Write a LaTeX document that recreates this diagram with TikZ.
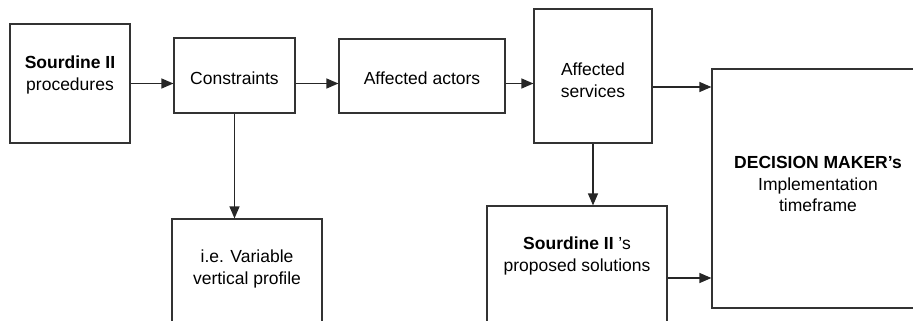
\documentclass[tikz,border=0pt]{standalone}
\usepackage{fontspec}
\setmainfont{Liberation Sans}
\usetikzlibrary{arrows.meta}

\tikzset{
  box/.style={draw=black!80, line width=1.2pt, inner sep=0pt, align=center},
  flow/.style={-{Triangle[length=12pt,width=10pt]}, line width=1.2pt, draw=black!85},
}

\begin{document}
\begin{tikzpicture}[x=1pt,y=-1pt,font=\fontsize{17.5}{21.5}\selectfont]
\useasboundingbox (0,0) rectangle (913,321);
\clip (0,0) rectangle (913,321);

% Top row
\node[box, minimum width=120pt, minimum height=119pt] (proc) at (70,83.5) {};
\node[align=center] (proctxt) at (70,75) {\textbf{Sourdine II}\\procedures};

\node[box, minimum width=121pt, minimum height=75pt] (cons) at (234.5,75.5) {};
\node (constxt) at (234.5,78) {Constraints};
\node[box, minimum width=166pt, minimum height=74pt] (acts) at (422,76) {};
\node (actstxt) at (422,78.5) {Affected actors};
\node[box, minimum width=118pt, minimum height=134pt] (serv) at (593,76) {};
\node[align=center] (servtxt) at (593,80) {Affected\\services};

% Decision box, runs off the right edge
\node[box, minimum width=216pt, minimum height=239pt] (dec) at (820,188.5) {};
\node[align=center] (dectxt) at (818,184)
    {\textbf{DECISION MAKER's}\\Implementation\\timeframe};

% Lower boxes, cut off at the bottom
\node[box, minimum width=150pt, minimum height=130pt] (prof) at (247,284) {};
\node[align=center] (proftxt) at (247,269) {i.e. Variable\\vertical profile};

\node[box, minimum width=180pt, minimum height=144pt] (sols) at (577,278) {};
\node[align=center] (solstxt) at (577,256) {\textbf{Sourdine II} 's\\proposed solutions};

% Connectors
\draw[flow] (proc.east) -- (proc.east -| cons.west);
\draw[flow] (cons.east |- proc.east) -- (acts.west |- proc.east);
\draw[flow] (acts.east |- proc.east) -- (serv.west |- proc.east);
\draw[flow] ([yshift=-11pt]serv.east) -- ([yshift=-11pt]serv.east -| dec.west);
\draw[flow] (cons.south) -- (cons.south |- prof.north);
\draw[flow] (serv.south) -- (serv.south |- sols.north);
\draw[flow] (sols.east) -- (sols.east -| dec.west);

\end{tikzpicture}
\end{document}
